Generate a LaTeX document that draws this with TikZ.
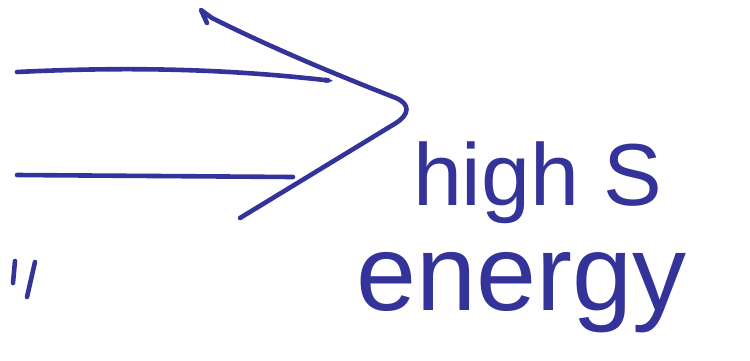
\documentclass[tikz,border=0pt]{standalone}
\usepackage{fontspec}
\setmainfont{Liberation Sans}
\usetikzlibrary{arrows.meta}
\definecolor{ink}{RGB}{51,51,153}
\tikzset{
  pen/.style={draw=ink, line width=4.6pt, line cap=round, line join=round},
  hand/.style={text=ink, anchor=base west, inner sep=0pt, outer sep=0pt}
}
\begin{document}
\begin{tikzpicture}[x=1pt,y=-1pt]
\useasboundingbox (0,0) rectangle (750,360);
% upper shaft with small tip
\draw[pen, -{Stealth[length=8pt,width=6pt]}] (17,72) .. controls (120,67) and (220,68) .. (333,81);
% lower shaft
\draw[pen] (17,175) -- (293,177);
% chevron
\draw[pen] (207,23) -- (201,10) -- (212,18) .. controls (280,52) and (350,80) .. (396,98)
  .. controls (410,104) and (410,114) .. (396,123) -- (240,218);
% small marks lower left
\draw[pen] (15,261) -- (13,283);
\draw[pen] (35,262) -- (27,297);
% text
\node[hand, font=\fontsize{88}{88}\selectfont] (t1) at (413,205) {high S};
\node[hand, font=\fontsize{108}{108}\selectfont] (t2) at (356,310) {energy};
\end{tikzpicture}
\end{document}
